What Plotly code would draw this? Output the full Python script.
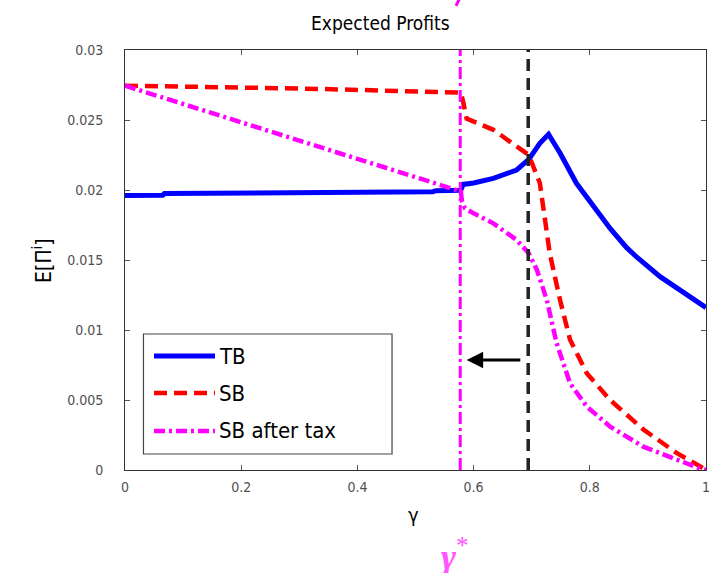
import plotly.graph_objects as go

# ---------------- data ----------------
gamma_tb = [0.0, 0.065, 0.068, 0.285, 0.288, 0.53, 0.535, 0.578, 0.582, 0.60, 0.634, 0.674,
            0.695, 0.714, 0.729, 0.749, 0.777, 0.806, 0.835, 0.863, 0.881, 0.921, 0.96, 1.0]
tb = [0.01960, 0.01962, 0.01975, 0.01978, 0.01985, 0.01988, 0.01995, 0.01998, 0.02040, 0.02050,
      0.02083, 0.02143, 0.02219, 0.02333, 0.02398, 0.02262, 0.02048, 0.01881, 0.01725, 0.01590,
      0.01520, 0.01381, 0.01270, 0.01160]

gamma_sb = [0.0, 0.1, 0.2, 0.3, 0.4, 0.5, 0.578, 0.582, 0.588, 0.634, 0.674, 0.695, 0.714,
            0.731, 0.749, 0.766, 0.795, 0.835, 0.892, 0.95, 0.984, 1.0]
sb = [0.02745, 0.02740, 0.02735, 0.02725, 0.02715, 0.02705, 0.02695, 0.0263, 0.0251, 0.0243,
      0.0231, 0.0225, 0.0205, 0.0155, 0.0121, 0.0093, 0.0069, 0.0050, 0.0029, 0.0012, 0.0004, 0.0]

gamma_tax = [0.0, 0.232, 0.578, 0.580, 0.585, 0.60, 0.634, 0.674, 0.686, 0.695, 0.709, 0.726,
             0.743, 0.766, 0.795, 0.835, 0.892, 0.95, 0.99, 1.0]
tax = [0.02745, 0.0244, 0.0199, 0.0192, 0.0187, 0.01833, 0.01762, 0.01643, 0.0159, 0.01548,
       0.01429, 0.01214, 0.00905, 0.00619, 0.00452, 0.0031, 0.00167, 0.00071, 0.0001, 0.0]

gamma_star = 0.577      # threshold after tax (magenta vertical)
gamma_bar = 0.694       # threshold before tax (black dashed vertical)
arrow_level = 0.00786   # height of the arrow

series_names = ["TB", "SB", "SB after tax"]
x_ticks = [0, 0.2, 0.4, 0.6, 0.8, 1]
x_tick_labels = ["0", "0.2", "0.4", "0.6", "0.8", "1"]
y_ticks = [0, 0.005, 0.01, 0.015, 0.02, 0.025, 0.03]
y_tick_labels = ["0", "0.005", "0.01", "0.015", "0.02", "0.025", "0.03"]

FONT = "DejaVu Sans Condensed, Liberation Sans Narrow, Liberation Sans, sans-serif"
BLUE, RED, MAG = "#0000ff", "#ff0000", "#ff00ff"
RED_DASH = "13px,7px"
MAG_DASH = "11px,4px,3px,4px"

fig = go.Figure()
fig.add_trace(go.Scatter(x=gamma_tb, y=tb, mode="lines", name=series_names[0],
                         line=dict(color=BLUE, width=5)))
fig.add_trace(go.Scatter(x=gamma_sb, y=sb, mode="lines", name=series_names[1],
                         line=dict(color=RED, width=4.5, dash=RED_DASH)))
fig.add_trace(go.Scatter(x=gamma_tax, y=tax, mode="lines", name=series_names[2],
                         line=dict(color=MAG, width=4.5, dash=MAG_DASH)))

shapes = [
    dict(type="line", xref="x", yref="paper", x0=gamma_star, x1=gamma_star, y0=0, y1=1,
         line=dict(color=MAG, width=3, dash="12px,4px,3px,4px")),
    dict(type="line", xref="x", yref="paper", x0=gamma_bar, x1=gamma_bar, y0=0, y1=1,
         line=dict(color="#222222", width=3.5, dash="12px,7px")),
    # small cut-off magenta stroke at the very top of the picture
    dict(type="line", xref="paper", yref="paper", x0=0.5697, x1=0.5766, y0=1.105, y1=1.125,
         line=dict(color=MAG, width=3)),
]

# manual legend
lx0, lx1 = 0.0318, 0.4596
ly0, ly1 = 0.0381, 0.3238
shapes.append(dict(type="rect", xref="paper", yref="paper", x0=lx0, x1=lx1, y0=ly0, y1=ly1,
                   line=dict(color="#444444", width=1.2), fillcolor="white", layer="above"))
entry_y = [0.2714, 0.1833, 0.0929]
entry_styles = [dict(color=BLUE, width=5), dict(color=RED, width=4.5, dash=RED_DASH),
                dict(color=MAG, width=4.5, dash=MAG_DASH)]
annotations = []
for name, ey, st in zip(series_names, entry_y, entry_styles):
    shapes.append(dict(type="line", xref="paper", yref="paper", x0=0.0499, x1=0.1549,
                       y0=ey, y1=ey, line=st, layer="above"))
    annotations.append(dict(xref="paper", yref="paper", x=0.1575, y=ey, text=name,
                            showarrow=False, xanchor="left", yanchor="middle",
                            font=dict(family=FONT, size=22, color="black")))

# title, axis titles, gamma* label
annotations += [
    dict(xref="paper", yref="paper", x=0.4406, y=1.064, text="Expected Profits",
         showarrow=False, xanchor="center", yanchor="middle",
         font=dict(family=FONT, size=19, color="black")),
    dict(xref="paper", yref="paper", x=-0.143, y=0.5, text="E[Π<sup>i</sup>]",
         showarrow=False, textangle=-90, xanchor="center", yanchor="middle",
         font=dict(family=FONT, size=21, color="black")),
    dict(xref="paper", yref="paper", x=0.496, y=-0.107, text="γ",
         showarrow=False, xanchor="center", yanchor="middle",
         font=dict(family=FONT, size=20, color="black")),
    dict(xref="paper", yref="paper", x=0.568, y=-0.2, text="<i><b>γ</b></i><sup>*</sup>",
         showarrow=False, xanchor="center", yanchor="middle",
         font=dict(family="Liberation Serif, DejaVu Serif, serif", size=36, color="#ff55ff")),
    dict(xref="x", yref="y", x=gamma_star + 0.011, y=arrow_level, ax=gamma_bar - 0.011,
         ay=arrow_level, axref="x", ayref="y", text="", showarrow=True,
         arrowhead=2, arrowsize=1.1, arrowwidth=3, arrowcolor="black"),
]

axis_common = dict(showline=True, linecolor="#333333", linewidth=1, mirror="ticks",
                   ticks="inside", ticklen=5, tickcolor="#555555", showgrid=False,
                   zeroline=False, automargin=False, ticklabeloverflow="allow",
                   tickfont=dict(family=FONT, size=14, color="#505050"))

fig.update_layout(
    width=711, height=573,
    margin=dict(l=125, r=5, t=50, b=103),
    paper_bgcolor="white", plot_bgcolor="white",
    showlegend=False,
    xaxis=dict(range=[0, 1], tickvals=x_ticks, ticktext=x_tick_labels,
               ticklabelstandoff=4, **axis_common),
    yaxis=dict(range=[0, 0.03], tickvals=y_ticks, ticktext=y_tick_labels,
               ticklabelstandoff=18, **axis_common),
    shapes=shapes,
    annotations=annotations,
)

# remove the page's default body margin so the figure fills the window exactly
fig.write_html("out.html", config={"displayModeBar": False},
               post_script="document.body.style.margin='0';document.body.style.overflow='hidden';")
